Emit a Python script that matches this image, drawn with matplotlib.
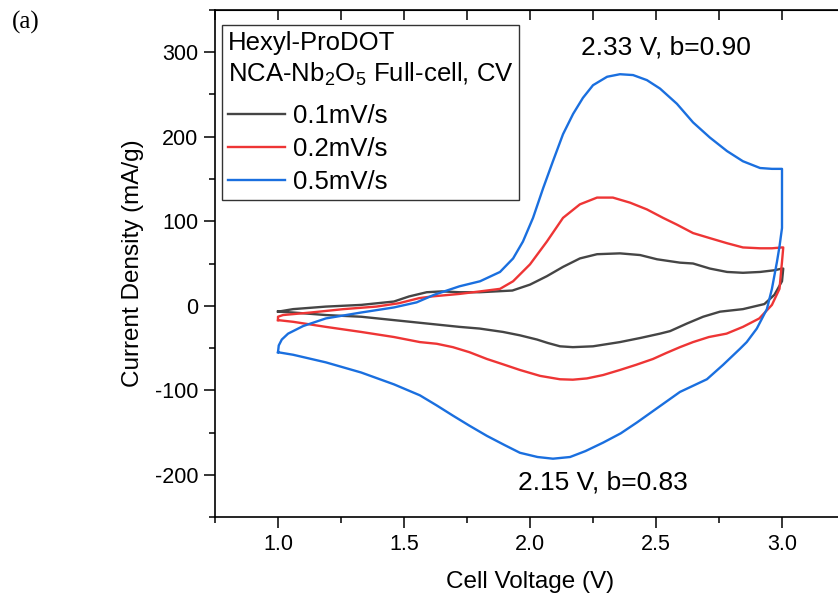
import matplotlib
matplotlib.use("Agg")
import matplotlib.pyplot as plt
import numpy as np

plt.rcParams['font.family'] = ['Liberation Sans', 'DejaVu Sans']
plt.rcParams['mathtext.fontset'] = 'custom'
plt.rcParams['mathtext.rm'] = 'Liberation Sans'
plt.rcParams['axes.unicode_minus'] = False

# ---- data (V, mA/g), one closed loop per scan rate ----
v_01 = [1.0, 1.06, 1.19, 1.33, 1.46, 1.52, 1.59, 1.65, 1.72, 1.80, 1.93, 2.0, 2.067, 2.131,
        2.198, 2.266, 2.357, 2.437, 2.504, 2.595, 2.647, 2.714, 2.782, 2.845, 2.913, 2.97, 3.0,
        3.005, 3.0, 2.97, 2.93, 2.845, 2.754, 2.687, 2.623, 2.556, 2.516, 2.44, 2.357, 2.25,
        2.17, 2.119, 2.07, 2.028, 1.96, 1.893, 1.80, 1.72, 1.59, 1.46, 1.33, 1.19, 1.06, 1.0]
i_01 = [-7, -4, -1, 1, 5, 11, 16, 17, 16, 16, 18, 25, 35, 46,
        56, 61, 62, 60, 55, 51, 50, 44, 40, 39, 40, 42, 44,
        44, 29, 13, 2, -4, -7, -13, -21, -30, -33, -38, -43, -48,
        -49, -48, -44, -40, -35, -31, -27, -25, -21, -17, -13, -11, -8, -7]

v_02 = [1.0, 1.0, 1.02, 1.13, 1.26, 1.39, 1.48, 1.56, 1.61, 1.72, 1.802, 1.881, 1.933, 2.0,
        2.067, 2.131, 2.198, 2.266, 2.329, 2.397, 2.464, 2.528, 2.583, 2.647, 2.714, 2.782,
        2.845, 2.913, 2.96, 3.0,
        3.005, 3.0, 2.99, 2.96, 2.91, 2.845, 2.78, 2.71, 2.647, 2.595, 2.54, 2.488, 2.42,
        2.357, 2.29, 2.226, 2.17, 2.119, 2.04, 1.96, 1.89, 1.829, 1.76, 1.694, 1.63, 1.563,
        1.46, 1.33, 1.19, 1.06, 1.0]
i_02 = [-17, -13, -11, -8, -4, -1, 3, 9, 11, 14, 17, 20, 29, 49,
        76, 104, 120, 128, 128, 122, 114, 104, 96, 86, 80, 74,
        69, 68, 68, 69,
        69, 52, 20, 1, -15, -25, -33, -37, -43, -49, -56, -63, -70,
        -76, -82, -86, -87.5, -87, -83, -76, -69, -63, -55, -49, -45, -43,
        -37, -31, -25, -19, -17]

v_05 = [1.0, 1.003, 1.015, 1.04, 1.10, 1.19, 1.33, 1.46, 1.55, 1.62, 1.72, 1.802, 1.881,
        1.933, 1.972, 2.012, 2.052, 2.091, 2.131, 2.171, 2.21, 2.25, 2.306, 2.357, 2.409,
        2.464, 2.516, 2.583, 2.647, 2.714, 2.782, 2.845, 2.913, 2.96, 3.0,
        3.0, 2.99, 2.98, 2.96, 2.94, 2.90, 2.86, 2.833, 2.766, 2.702, 2.595, 2.51, 2.425,
        2.36, 2.29, 2.22, 2.159, 2.091, 2.03, 1.96, 1.9, 1.829, 1.76, 1.694, 1.63, 1.563,
        1.46, 1.33, 1.19, 1.06, 1.0]
i_05 = [-55, -47, -40, -33, -24, -15, -8, -2, 4, 13, 23, 29, 40,
        56, 76, 104, 139, 171, 203, 227, 246, 261, 271, 274, 273,
        267, 257, 239, 217, 199, 183, 171, 163, 162, 162,
        92, 70, 52, 20, -4, -27, -43, -51, -70, -87, -102, -120, -138,
        -151, -162, -172, -179, -181, -179, -174, -165, -154, -142, -130, -118, -106,
        -93, -79, -67, -58, -55]

labels = ['0.1mV/s', '0.2mV/s', '0.5mV/s']
colors = ['#454545', '#ee3535', '#1a6fdf']

# ---- figure ----
fig = plt.figure(figsize=(8.38, 5.98), dpi=100)
ax = fig.add_axes([215 / 838, 81 / 598, 630 / 838, 507 / 598])

for v, i, lab, c in zip([v_01, v_02, v_05], [i_01, i_02, i_05], labels, colors):
    ax.plot(v, i, color=c, lw=1.7, label=lab, solid_joinstyle='round')

ax.set_xlim(0.75, 3.25)
ax.set_ylim(-250, 350)
ax.set_xticks([1.0, 1.5, 2.0, 2.5, 3.0])
ax.set_xticks(np.arange(0.75, 3.26, 0.25), minor=True)
ax.set_yticks([-200, -100, 0, 100, 200, 300])
ax.set_yticks(np.arange(-250, 351, 50), minor=True)
ax.tick_params(which='major', direction='out', length=8, width=1.1, labelsize=15.5, pad=4)
ax.tick_params(which='minor', direction='out', length=4, width=1.1)
for s in ax.spines.values():
    s.set_linewidth(1.2)

top = ax.secondary_xaxis('top')
top.set_xticks(np.arange(0.75, 3.26, 0.25))
top.tick_params(direction='in', length=7, width=1.1, labeltop=False)
right = ax.secondary_yaxis('right')
right.set_yticks(np.arange(-200, 301, 100))
right.tick_params(direction='in', length=5, width=1.1, labelright=False)

ax.set_xlabel('Cell Voltage (V)', fontsize=17.5, labelpad=12)
ax.set_ylabel('Current Density (mA/g)', fontsize=17.5, labelpad=8)

leg = ax.legend(title='Hexyl-ProDOT\nNCA-Nb$_2$O$_5$ Full-cell, CV', alignment='left',
                loc='upper left', bbox_to_anchor=(0.011, 0.970), borderaxespad=0,
                fontsize=18.5, title_fontsize=18.5, fancybox=False, edgecolor='#333333',
                framealpha=1, handlelength=2.25, handletextpad=0.3, labelspacing=0.36,
                borderpad=0.22)
leg.get_frame().set_linewidth(1.0)
leg.get_title().set_linespacing(1.25)
# a bit more room between the title lines and the entries
leg._legend_box.sep = 0.36 * 18.5 + 5

ax.text(2.54, 306, '2.33 V, b=0.90', fontsize=19, ha='center', va='center')
ax.text(2.29, -209, '2.15 V, b=0.83', fontsize=19, ha='center', va='center')

fig.text(12 / 838, 1 - 22 / 598, '(a)', fontsize=18, family=['Liberation Serif'],
         ha='left', va='center')

fig.savefig('out.png', dpi=100)
